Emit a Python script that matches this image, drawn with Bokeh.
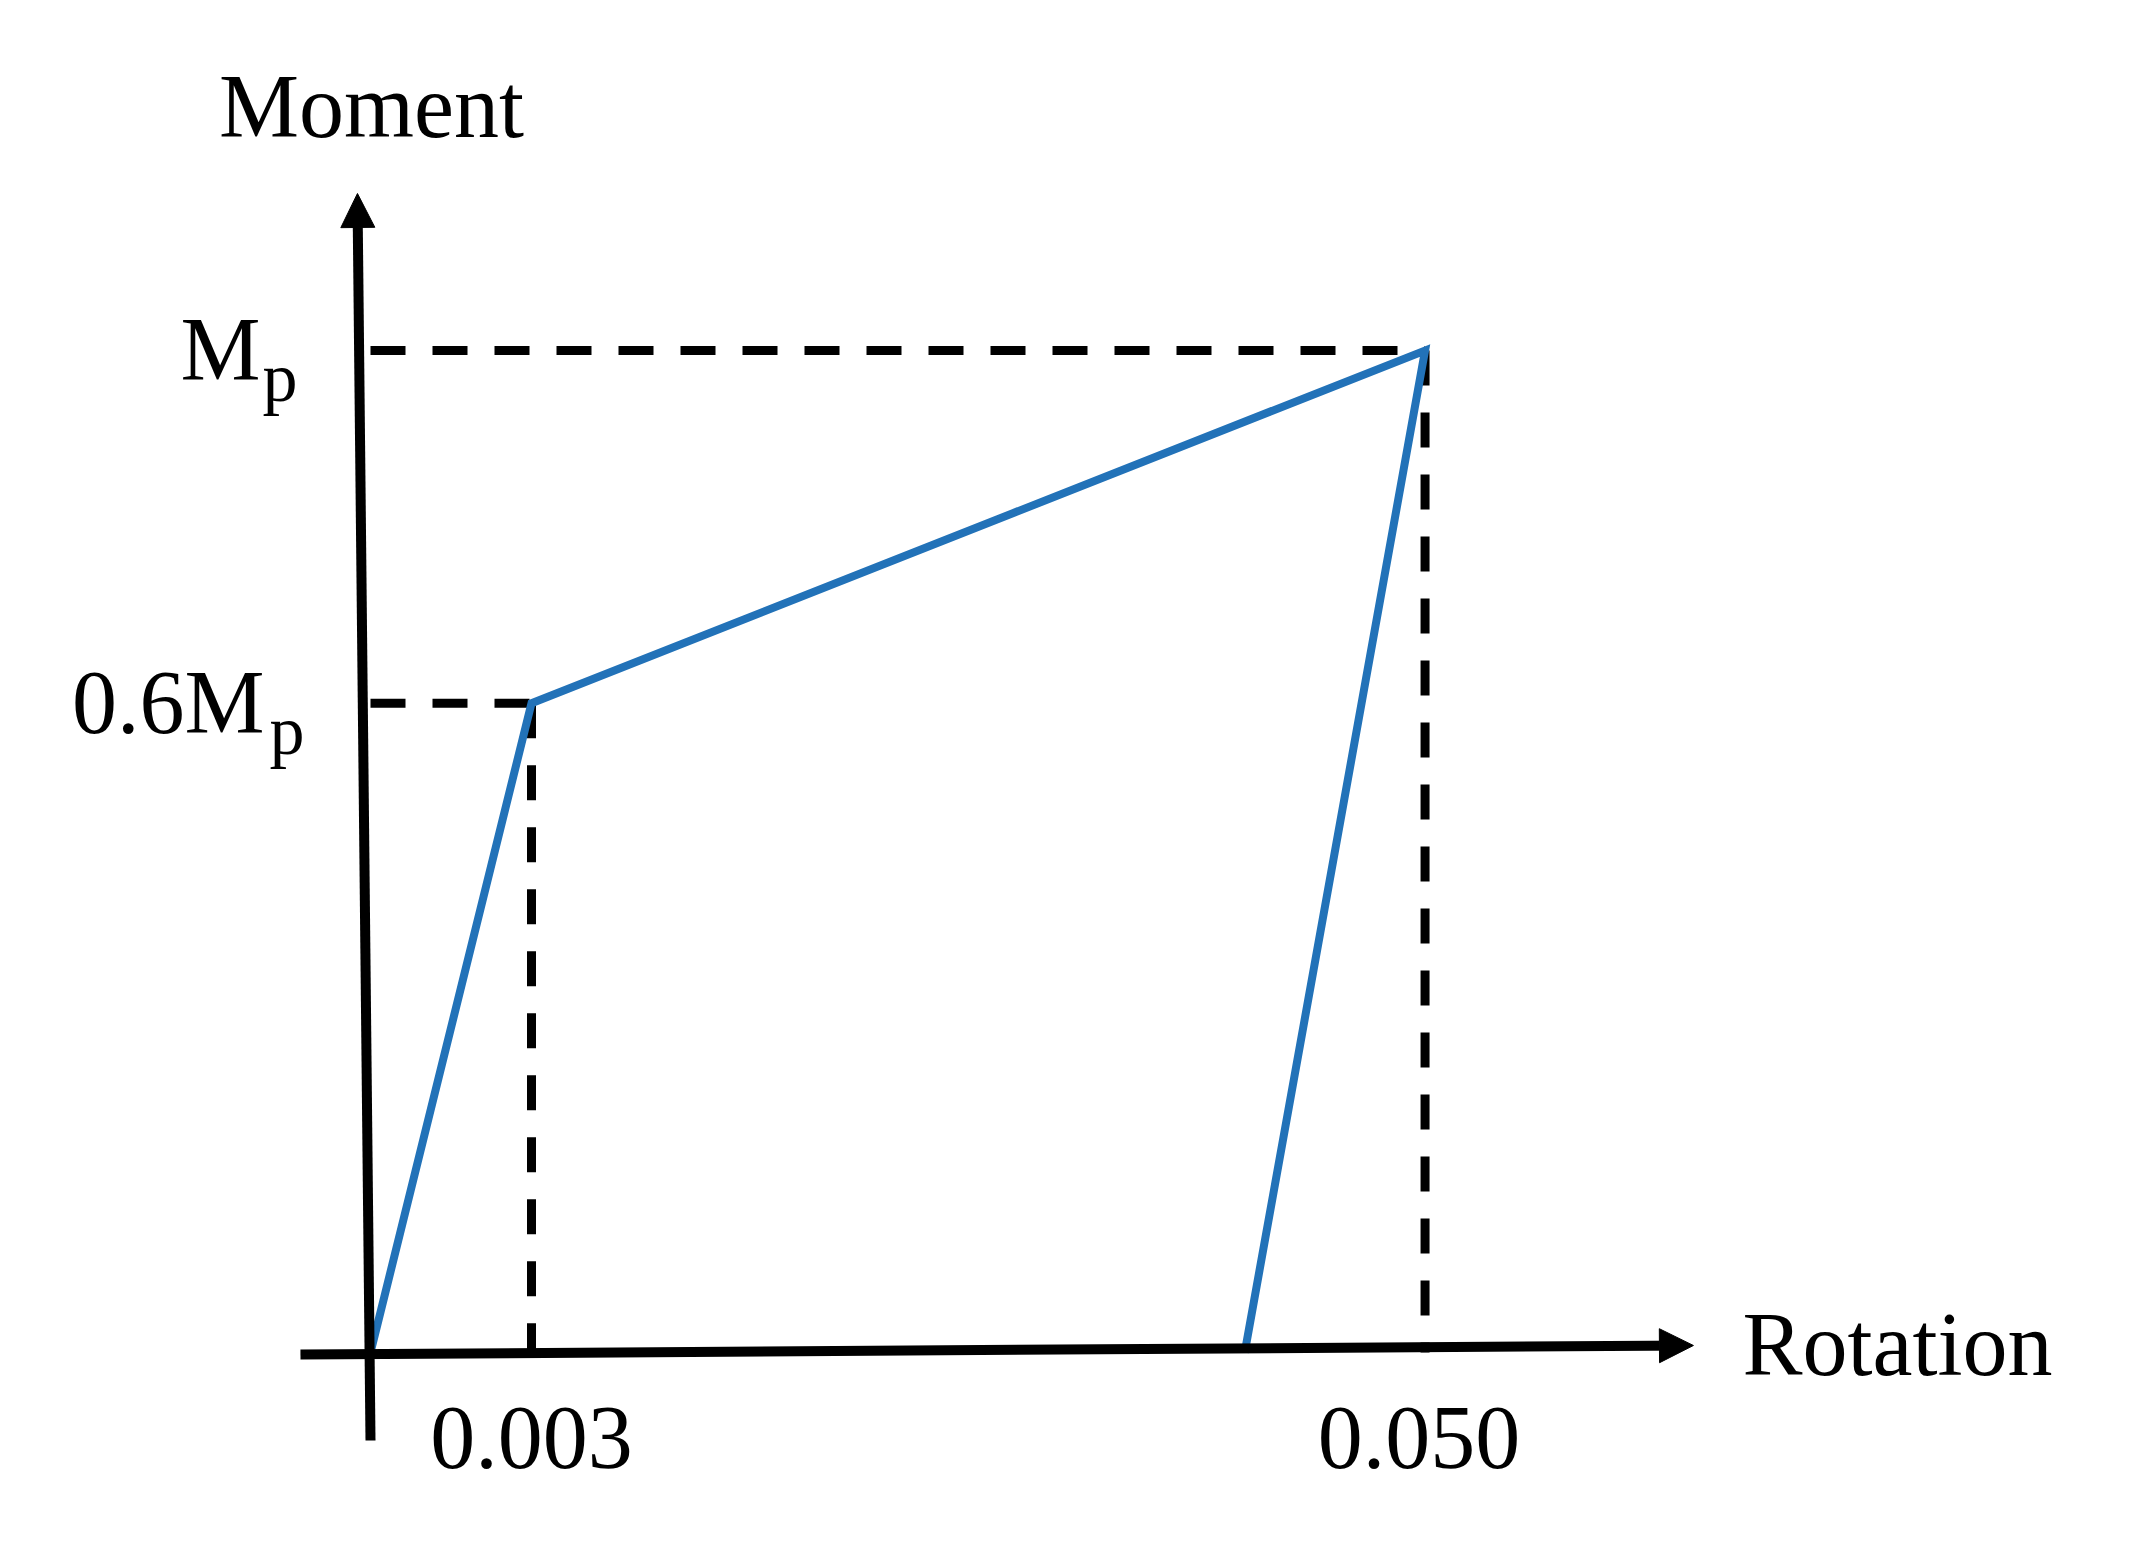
from bokeh.plotting import figure
from bokeh.models import Range1d, Arrow, NormalHead
from bokeh.core.properties import value
from bokeh.embed import file_html
from bokeh.resources import INLINE

# ---- data (schematic diagram units: x = multiples of the 0.003 tick spacing, y = M/Mp as drawn) ----
curve_x = [0.0, 1.0, 6.55, 5.43]
curve_y = [0.0, 0.648, 1.0, 0.0]
x_tick_pos = [1.0, 6.55]
x_tick_labels = ["0.003", "0.050"]
y_tick_pos = [0.648, 1.0]
y_tick_main = ["0.6M", "M"]
y_tick_sub = ["p", "p"]
x_title = "Rotation"
y_title = "Moment"

# ---- layout ----
W, H = 2139, 1528
PX0, SX = 370, 161.0     # screen x of origin, px per x unit
PY0, SY = 176, 1002.0    # screen y (from bottom) of origin, px per y unit
FONT = value("Liberation Serif")
BLUE = "#2272b8"
TY = -31                 # text baseline correction

p = figure(width=W, height=H, output_backend="svg", toolbar_location=None,
           x_range=Range1d(-PX0 / SX, (W - PX0) / SX),
           y_range=Range1d(-PY0 / SY, (H - PY0) / SY),
           min_border=0, outline_line_color=None, background_fill_color="white")
p.axis.visible = False
p.grid.visible = False

# axes with arrows
y_ax = dict(x0=0.0, y0=-0.0878, x1=-0.081, y1=1.1567)
x_ax = dict(x0=-0.435, y0=-0.002, x1=8.217, y1=0.007)
for ax in (y_ax, x_ax):
    p.add_layout(Arrow(end=NormalHead(size=34, fill_color="black", line_color="black", line_width=1),
                       x_start=ax["x0"], y_start=ax["y0"], x_end=ax["x1"], y_end=ax["y1"],
                       line_width=10, line_color="black"))

# dashed guide lines
dash = dict(line_color="black", line_width=9, line_dash="35 27", line_cap="butt")
for xv, yv in zip(x_tick_pos, y_tick_pos):
    p.line([0.0, xv], [yv, yv], **dash)
    p.line([xv, xv], [yv, 0.0], **dash)

# curve
p.line(curve_x, curve_y, line_color=BLUE, line_width=8, line_join="miter")

# tick labels on rotation axis
p.text(x=x_tick_pos, y=[0, 0], text=x_tick_labels, text_font=FONT, text_font_size="90px",
       text_align="center", text_baseline="alphabetic", y_offset=116 + TY, x_offset=[0, -6],
       text_color="black")

# moment labels with subscript
p.text(x=[0, 0], y=y_tick_pos, text=y_tick_main, text_font=FONT, text_font_size="90px",
       text_align="right", text_baseline="alphabetic", x_offset=[-106, -110], y_offset=30 + TY,
       text_color="black")
p.text(x=[0, 0], y=y_tick_pos, text=y_tick_sub, text_font=FONT, text_font_size="70px",
       text_align="left", text_baseline="alphabetic", x_offset=[-101, -108], y_offset=58 + TY,
       text_color="black")

# axis titles
p.text(x=[y_ax["x1"]], y=[y_ax["y1"]], text=[y_title], text_font=FONT, text_font_size="90px",
       text_align="center", text_baseline="alphabetic", y_offset=-56 + TY, x_offset=14,
       text_color="black")
p.text(x=[x_ax["x1"]], y=[x_ax["y1"]], text=[x_title], text_font=FONT, text_font_size="90px",
       text_align="left", text_baseline="alphabetic", x_offset=49, y_offset=30 + TY,
       text_color="black")

open("out.html", "w").write(file_html(p, INLINE))
